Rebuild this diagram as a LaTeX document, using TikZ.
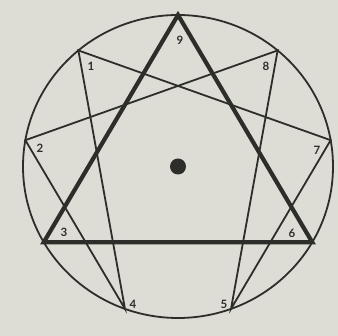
\documentclass[tikz,border=0pt]{standalone}
\usepackage{fontspec}
\setmainfont{Lato}
\usetikzlibrary{calc}
\definecolor{bg}{RGB}{221,221,214}
\definecolor{ink}{RGB}{45,45,42}
\begin{document}
\begin{tikzpicture}[x=1pt,y=-1pt,
  thin line/.style={draw=ink,line width=1.8pt},
  thick line/.style={draw=ink,line width=4.2pt,line join=miter},
  lbl/.style={text=ink,font=\bfseries\fontsize{11.5}{11.5}\selectfont,inner sep=0pt}]
\fill[bg] (0,0) rectangle (338,336);
\useasboundingbox (0,0) rectangle (338,336);
\coordinate (c) at (178,166.5);
\foreach \k in {0,...,8} {
  \coordinate (p\k) at ($(c)+({155*cos(90+40*\k)},{-151.5*sin(90+40*\k)})$);
}
\draw[thin line] (c) ellipse [x radius=155, y radius=151.5];
\draw[thin line,line join=miter] (p1) -- (p4) -- (p2) -- (p8) -- (p5) -- (p7) -- cycle;
\draw[thick line] (p0) -- (p3) -- (p6) -- cycle;
\fill[ink] (c) circle [radius=8];
\node[lbl] (l9) at (180,40) {9};
\node[lbl] (l1) at (91,66) {1};
\node[lbl] (l8) at (266,66) {8};
\node[lbl] (l2) at (40,148) {2};
\node[lbl] (l7) at (317,150) {7};
\node[lbl] (l3) at (64,232) {3};
\node[lbl] (l6) at (292,233) {6};
\node[lbl] (l4) at (133,304) {4};
\node[lbl] (l5) at (224,304) {5};
\end{tikzpicture}
\end{document}
